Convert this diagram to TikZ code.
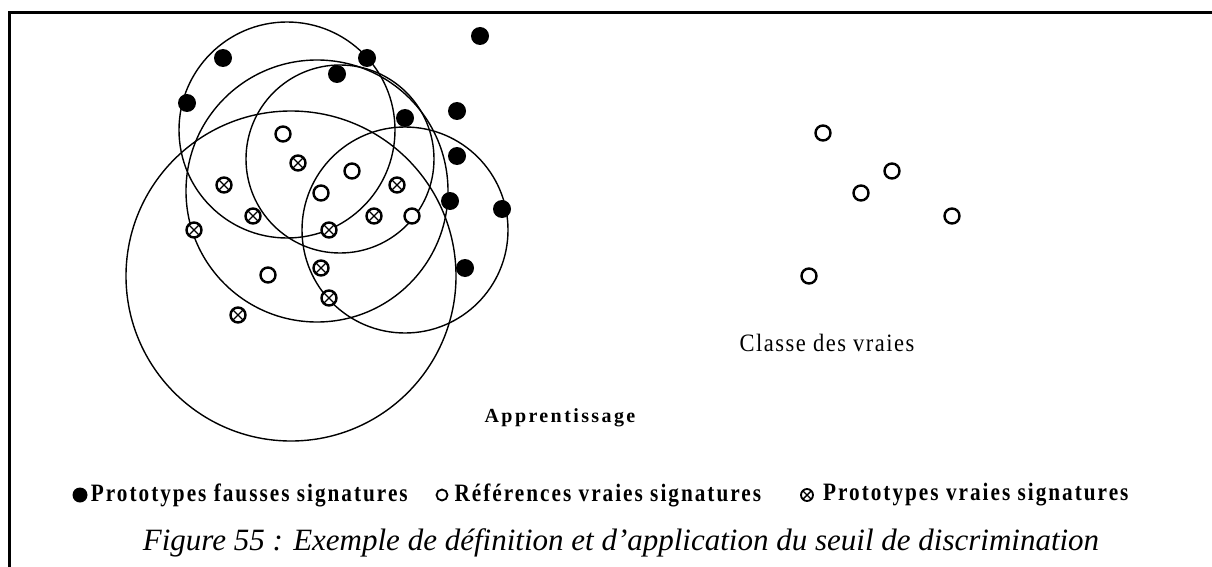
\documentclass[tikz,border=0pt]{standalone}
\usepackage{fontspec}
\setmainfont{Liberation Serif}
\usepackage{tikz}
\usetikzlibrary{positioning}

\begin{document}
\begin{tikzpicture}[
    x=1pt, y=-1pt,
    zone/.style={draw, line width=1.4pt},
    fauxpt/.style={circle, fill=black, inner sep=0pt, minimum size=18pt},
    refpt/.style={circle, draw, fill=white, line width=2.4pt, inner sep=0pt, minimum size=15pt},
    protopt/.style={refpt, path picture={\draw[line width=1.4pt] (path picture bounding box.north west) -- (path picture bounding box.south east) (path picture bounding box.north east) -- (path picture bounding box.south west);}},
    legtxt/.style={anchor=west, inner sep=0pt, font=\fontsize{25}{27}\selectfont\bfseries\addfontfeatures{FakeStretch=0.85,LetterSpace=8}}
  ]
    \useasboundingbox (0,0) rectangle (1212,567);
    \draw[line width=3pt] (1212,13) -- (9,13) -- (9,567);

    % zones de decision
    \draw[zone] (287,130) circle[radius=108];
    \draw[zone] (317,191) circle[radius=131];
    \draw[zone] (340,159) circle[radius=94];
    \draw[zone] (291,276) circle[radius=165];
    \draw[zone] (405,230) circle[radius=103];

    \foreach \px/\py [count=\i] in {223/58, 367/58, 337/74, 480/36, 187/103, 405/118, 457/111, 457/156, 450/201, 502/209, 465/268}
      \node[fauxpt] (f\i) at (\px,\py) {};
    \foreach \px/\py [count=\i] in {283/134, 352/171, 321/193, 412/216, 268/275}
      \node[refpt] (r\i) at (\px,\py) {};
    \foreach \px/\py [count=\i] in {298/163, 224/185, 397/185, 253/216, 374/216, 194/230, 329/230, 321/268, 329/298, 238/315}
      \node[protopt] (p\i) at (\px,\py) {};
    \foreach \px/\py [count=\i] in {823/133, 892/171, 861/193, 952/216, 809/276}
      \node[refpt] (v\i) at (\px,\py) {};

    \node[font=\fontsize{20}{22}\selectfont\bfseries\addfontfeatures{LetterSpace=12}] (appr) at (560,418) {Apprentissage};
    \node[font=\fontsize{25}{27}\selectfont\addfontfeatures{FakeStretch=0.9,LetterSpace=6}] (classe) at (827,343) {Classe des vraies};

    % legende
    \node[fauxpt, minimum size=15pt] (lf) at (80,495) {};
    \node[legtxt, right=3pt of lf] (lftxt) {Prototypes fausses signatures};
    \node[refpt, minimum size=11pt, line width=1.8pt] (lr) at (442,495) {};
    \node[legtxt, right=6pt of lr] (lrtxt) {Références vraies signatures};
    \node[protopt, minimum size=12pt, line width=1.8pt] (lp) at (807,495) {};
    \node[legtxt, right=9pt of lp] (lptxt) {Prototypes vraies signatures};

    \node[font=\fontsize{31}{34}\selectfont\itshape] (titre) at (621,543) {Figure 55 : Exemple de définition et d'application du seuil de discrimination};
  \end{tikzpicture}
\end{document}
